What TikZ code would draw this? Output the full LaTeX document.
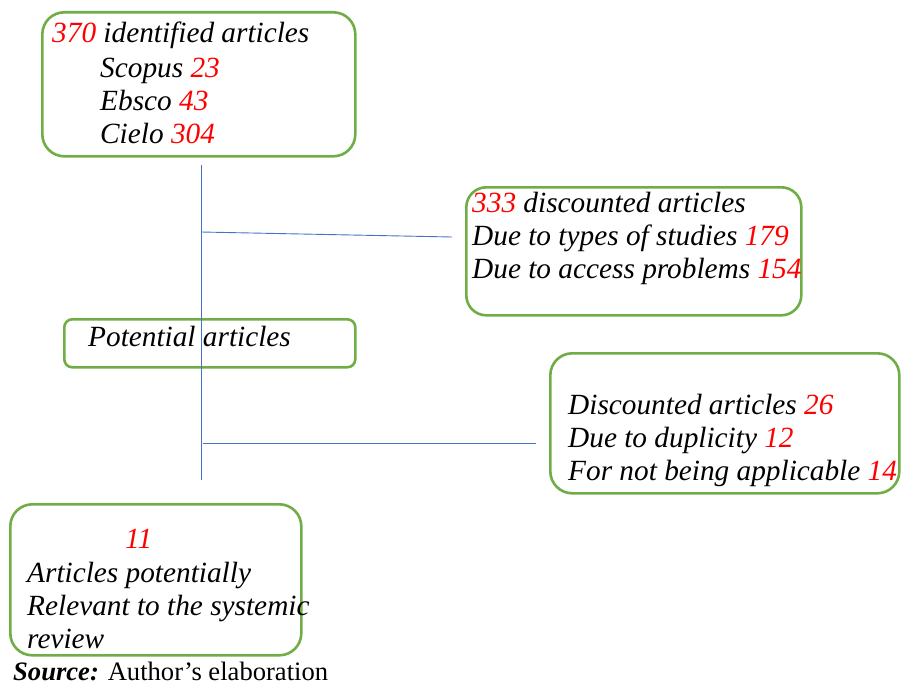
\documentclass[tikz,border=0pt]{standalone}
\usepackage{fontspec}
\setmainfont{Liberation Serif}
\definecolor{boxgreen}{HTML}{70AD47}
\definecolor{lineblue}{HTML}{4472C4}
\definecolor{numred}{HTML}{FF0000}
\newcommand{\rn}[1]{\textcolor{numred}{#1}}
\tikzset{
  gbox/.style={draw=boxgreen, line width=2.6pt, anchor=north west, inner sep=0pt},
  txt/.style={anchor=base west, inner sep=0pt, font=\fontsize{29.3}{33}\selectfont\itshape},
  conn/.style={draw=lineblue, line width=0.9pt}
}
\begin{document}
\begin{tikzpicture}[x=1pt,y=-1pt]
\useasboundingbox (0,0) rectangle (901,685);
% boxes
\node[gbox, rounded corners=22pt, minimum width=313pt, minimum height=144pt] (b1) at (41,11) {};
\node[gbox, rounded corners=20pt, minimum width=335pt, minimum height=128pt] (b2) at (465,186) {};
\node[gbox, rounded corners=8pt, minimum width=291pt, minimum height=48pt] (b3) at (63,318) {};
\node[gbox, rounded corners=22pt, minimum width=349pt, minimum height=140pt] (b4) at (549,352) {};
\node[gbox, rounded corners=22pt, minimum width=291pt, minimum height=151pt] (b5) at (9,503) {};
% texts
\node[txt] (t11) at (52,43) {\rn{370} identified articles};
\node[txt] (t12) at (100,77) {Scopus \rn{23}};
\node[txt] (t13) at (100,110) {Ebsco \rn{43}};
\node[txt] (t14) at (100,143) {Cielo \rn{304}};
\node[txt] (t21) at (472,212) {\rn{333} discounted articles};
\node[txt] (t22) at (472,245) {Due to types of studies \rn{179}};
\node[txt] (t23) at (472,278) {Due to access problems \rn{154}};
\node[txt] (t31) at (88,346) {Potential articles};
\node[txt] (t41) at (568,414) {Discounted articles \rn{26}};
\node[txt] (t42) at (568,447) {Due to duplicity \rn{12}};
\node[txt] (t43) at (568,480) {For not being applicable \rn{14}};
\node[txt] (t51) at (125,548) {\rn{11}};
\node[txt] (t52) at (27,582) {Articles potentially};
\node[txt] (t53) at (27,615) {Relevant to the systemic};
\node[txt] (t54) at (27,648) {review};
\node[anchor=base west, inner sep=0pt, font=\fontsize{26.6}{30}\selectfont] (src) at (13,680) {\textbf{\textit{Source:}} Author’s elaboration};
% connectors
\coordinate (vtop) at (201,165);
\coordinate (vbot) at (201,480);
\coordinate (h1a) at (201,232);
\coordinate (h1b) at (452,237);
\coordinate (h2a) at (203,443);
\coordinate (h2b) at (536,443);
\draw[conn] (vtop) -- (vbot);
\draw[conn] (h1a) -- (h1b);
\draw[conn] (h2a) -- (h2b);
\end{tikzpicture}
\end{document}
